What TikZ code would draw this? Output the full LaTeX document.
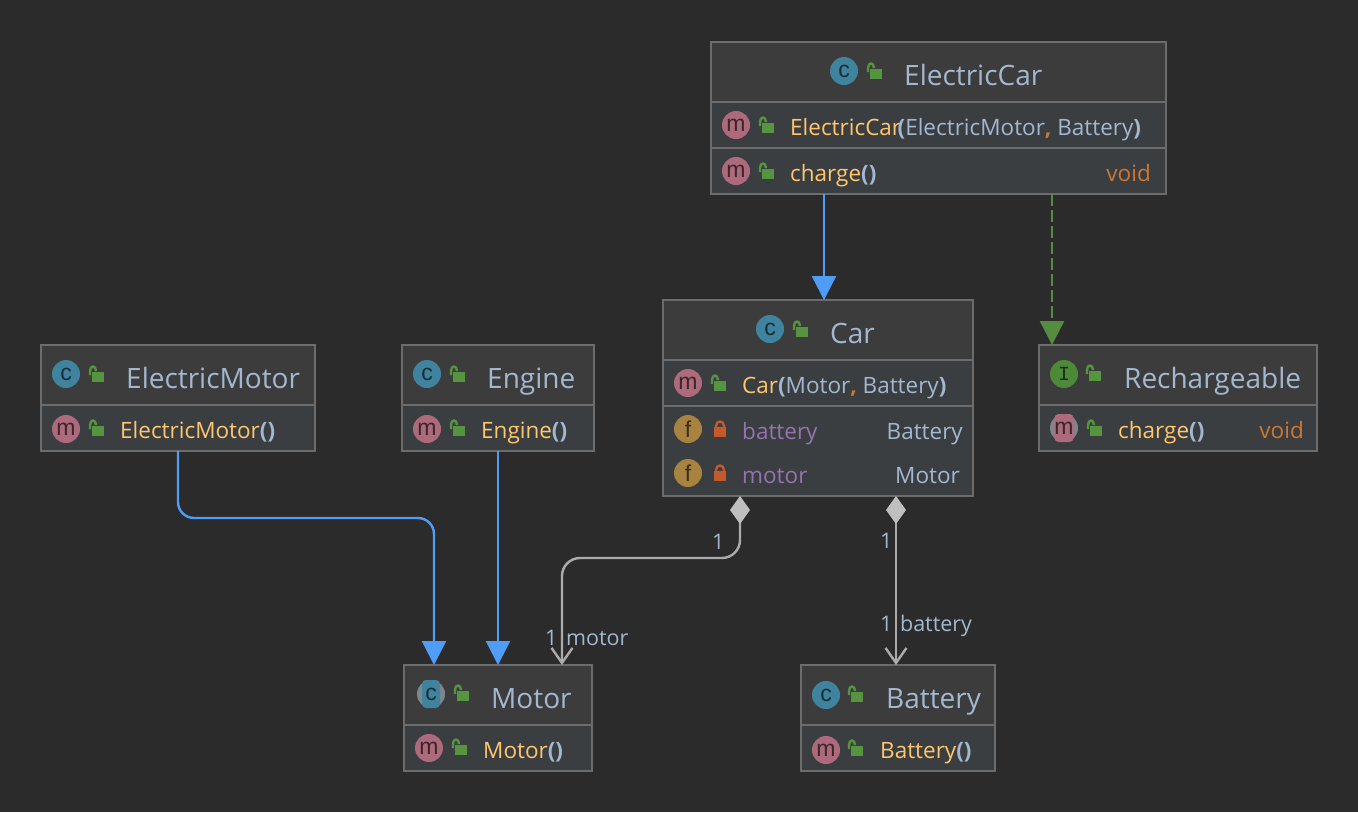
\documentclass[tikz,border=0pt]{standalone}
\usepackage{fontspec}
\setmainfont{Open Sans}
\newfontfamily\iconfont{Liberation Sans}
\newfontfamily\ifacefont{Liberation Mono}
\usetikzlibrary{arrows.meta}

\definecolor{bgcol}{HTML}{2B2B2B}
\definecolor{headcol}{HTML}{3C3C3C}
\definecolor{bodycol}{HTML}{3B3E41}
\definecolor{edgecol}{HTML}{6C6C6C}
\definecolor{titlecol}{HTML}{A3B8D0}
\definecolor{methcol}{HTML}{FFC66D}
\definecolor{fieldcol}{HTML}{9573AF}
\definecolor{voidcol}{HTML}{CC7832}
\definecolor{bluecol}{HTML}{4F9DF7}
\definecolor{greencol}{HTML}{548C40}
\definecolor{graycol}{HTML}{ABABAB}
\definecolor{diamcol}{HTML}{BFBFBF}
\definecolor{iconc}{HTML}{40839F}
\definecolor{iconm}{HTML}{AD6A7C}
\definecolor{iconf}{HTML}{A8823F}
\definecolor{iconi}{HTML}{4C8A3A}
\definecolor{lockopen}{HTML}{56953F}
\definecolor{lockshut}{HTML}{C4592B}
\definecolor{haze}{HTML}{7F868C}

\newcommand{\mname}[1]{\textcolor{methcol}{#1}}
\newcommand{\mparen}[1]{\textcolor{titlecol}{\bfseries #1}}
\newcommand{\mcomma}{\textcolor{voidcol}{\bfseries ,}}

\tikzset{
  classbody/.style={draw=edgecol, fill=bodycol, line width=1.5pt, inner sep=0, outer sep=0, anchor=north west},
  classhead/.style={classbody, fill=headcol},
  titletext/.style={anchor=base west, inner sep=0, text=titlecol, font=\fontsize{28}{32}\selectfont},
  membertext/.style={anchor=base west, inner sep=0, text=titlecol, font=\fontsize{22.5}{26}\selectfont},
  typetext/.style={membertext, anchor=base east},
  edgetext/.style={anchor=base west, inner sep=0, text=titlecol, font=\fontsize{21.5}{25}\selectfont},
  classicon/.style={circle, fill=#1, text=#1!35!black, minimum size=28pt, inner sep=0, font=\iconfont\fontsize{23}{23}\selectfont},
  inherit/.style={bluecol, line width=2.4pt, -{Triangle[length=24pt,width=24pt]}},
  realize/.style={greencol, line width=2.4pt, dash pattern=on 12pt off 4pt, -{Triangle[length=24pt,width=24pt]}},
  compose/.style={graycol, line width=2.4pt, {Diamond[length=28pt,width=20pt,fill=diamcol,color=diamcol]}-{Straight Barb[length=15pt,width=21pt]}},
  openlock/.pic={
    \fill[lockopen] (-6,-5) rectangle (6,5);
    \draw[lockopen, line width=2.4pt] (-8,-2) -- (-8,-6) .. controls (-8,-12) and (-2,-12) .. (-2,-6);
  },
  shutlock/.pic={
    \fill[lockshut] (-6,-5) rectangle (6,5);
    \draw[lockshut, line width=2.4pt] (-4,-4) -- (-4,-6) .. controls (-4,-12) and (4,-12) .. (4,-6) -- (4,-4);
  }
}

\begin{document}
\begin{tikzpicture}[x=1pt, y=-1pt]
\fill[bgcol] (0,0) rectangle (1358,812);
\useasboundingbox (0,0) rectangle (1358,812);

% Boxes
\foreach \nm/\x/\y/\w/\h/\hh in {ecar/711/42/455/152/60, car/663/300/310/196/60, emotor/41/345/274/106/60, engine/402/345/192/106/60, recharge/1039/345/278/106/60, motor/404/665/188/106/60, battery/801/665/194/106/60} {
  \node[classbody, minimum width=\w pt, minimum height=\h pt] (\nm) at (\x,\y) {};
  \node[classhead, minimum width=\w pt, minimum height=\hh pt] (\nm-head) at (\x,\y) {};
}
\draw[edgecol, line width=1.5pt] (ecar.west |- 0,148) -- (ecar.east |- 0,148);
\draw[edgecol, line width=1.5pt] (car.west |- 0,406) -- (car.east |- 0,406);

% Smeared icons under the two selected rows
\node[classicon=haze] (smearc) at (431,694) {};
\node[classicon=haze] (smearm) at (1064,428) {};

% Icons
\foreach \nm/\x/\y/\kind/\ltr in {i1/844/71/iconc/c, i2/736/125/iconm/m, i3/736/171/iconm/m, i4/770/329/iconc/c, i5/688/383/iconm/m, i6/688/429/iconf/f, i7/688/473/iconf/f, i8/66/374/iconc/c, i9/66/429/iconm/m, i10/427/374/iconc/c, i11/427/429/iconm/m, i13/429/748/iconm/m, i14/826/695/iconc/c, i15/826/750/iconm/m} {
  \node[classicon=\kind] (\nm) at (\x,\y) {\ltr};
}
\node[classicon=iconi] (i12) at (1064,374) {\ifacefont\fontsize{20}{20}\selectfont I};
\node[classicon=iconc, rectangle, rounded corners=4pt, minimum width=18pt] (i16) at (431,694) {c};
\node[classicon=iconm, rectangle, rounded corners=4pt, minimum width=18pt] (i17) at (1064,428) {m};

% Locks
\foreach \x/\y in {876/74, 768/128, 768/174, 802/332, 720/386, 98/377, 98/431, 459/377, 459/431, 1095/376, 1096/431, 463/696, 461/750, 857/697, 857/751} {
  \pic at (\x,\y) {openlock};
}
\foreach \x/\y in {720/432, 720/476} {
  \pic at (\x,\y) {shutlock};
}

% Titles
\node[titletext] (t-ecar) at (904,85) {ElectricCar};
\node[titletext] (t-car) at (830,343) {Car};
\node[titletext] (t-emotor) at (126,388) {ElectricMotor};
\node[titletext] (t-engine) at (487,388) {Engine};
\node[titletext] (t-recharge) at (1124,388) {Rechargeable};
\node[titletext] (t-motor) at (491,708) {Motor};
\node[titletext] (t-battery) at (886,708) {Battery};

% Members
\node[membertext] (m-ecar) at (790,135) {\mname{ElectricCar}\kern-3.5pt\mparen{(}ElectricMotor\mcomma{} Battery\mparen{)}};
\node[membertext] (m-charge) at (790,181) {\mname{charge}\mparen{()}};
\node[typetext, text=voidcol] (m-void) at (1151,181) {void};
\node[membertext] (m-car) at (742,393) {\mname{Car}\mparen{(}Motor\mcomma{} Battery\mparen{)}};
\node[membertext, text=fieldcol] (f-battery) at (742,439) {battery};
\node[typetext] (f-batterytype) at (963,439) {Battery};
\node[membertext, text=fieldcol] (f-motor) at (742,483) {motor};
\node[typetext] (f-motortype) at (960,483) {Motor};
\node[membertext] (m-emotor) at (120,438) {\mname{ElectricMotor}\mparen{()}};
\node[membertext] (m-engine) at (481,438) {\mname{Engine}\mparen{()}};
\node[membertext] (m-recharge) at (1118,438) {\mname{charge}\mparen{()}};
\node[typetext, text=voidcol] (m-rvoid) at (1304,438) {void};
\node[membertext] (m-motor) at (483,758) {\mname{Motor}\mparen{()}};
\node[membertext] (m-battery) at (880,758) {\mname{Battery}\mparen{()}};

% Connectors
\draw[inherit] ([xshift=-114.5pt]ecar.south) -- ([xshift=6pt]car.north);
\draw[realize] ([xshift=113.5pt]ecar.south) -- ([xshift=-126pt]recharge.north);
\draw[inherit, rounded corners=16pt] (emotor.south) -- ++(0,67) -| ([xshift=-64pt]motor.north);
\draw[inherit] (engine.south) -- (motor.north);
\draw[compose, rounded corners=18pt] ([xshift=-78pt]car.south) -- ++(0,62) -| ([xshift=64pt]motor.north);
\draw[compose] ([xshift=78pt]car.south) -- ([xshift=-2pt]battery.north);

% Connector labels
\node[edgetext] (l-car1) at (712,549) {1};
\node[edgetext] (l-motor) at (545,645) {1\kern3pt{} motor};
\node[edgetext] (l-car2) at (880,548) {1};
\node[edgetext] (l-battery) at (880,631) {1\kern2pt{} battery};
\end{tikzpicture}
\end{document}
